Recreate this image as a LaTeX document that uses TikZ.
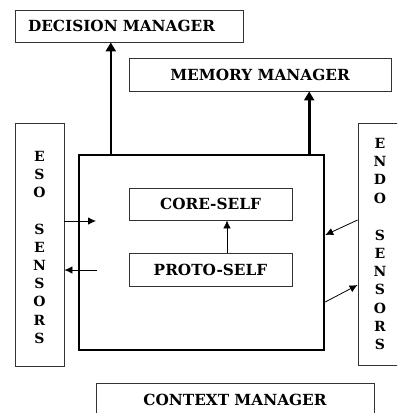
\documentclass[tikz,border=0pt]{standalone}
\usepackage{fontspec}
\setmainfont{DejaVu Serif}
\usetikzlibrary{arrows.meta,calc}
\tikzset{
  box/.style={draw=black!80, line width=0.8pt, inner sep=0pt, font=\bfseries\fontsize{15.3}{18}\selectfont},
  mainbox/.style={draw=black, line width=2.4pt, inner sep=0pt},
  sensor/.style={box, align=center, font=\bfseries\fontsize{14}{18.2}\selectfont},
  bigarrow/.style={line width=2.6pt, -{Triangle[length=9pt,width=10pt]}},
  smallarrow/.style={line width=0.8pt, -{Latex[length=8pt,width=7.5pt]}}
}
\begin{document}
\begin{tikzpicture}[x=1pt,y=-1pt]
\useasboundingbox (0,0) rectangle (397,413);
\clip (0,0) rectangle (397,413);

% managers
\node[box, minimum width=228pt, minimum height=32pt, text width=202pt, align=left] (dec) at (129,26) {DECISION MANAGER};
\node[box, minimum width=262pt, minimum height=33pt] (mem) at (260,74.5) {MEMORY MANAGER};
\node[box, minimum width=278pt, minimum height=34pt] (ctx) at (235,400) {CONTEXT MANAGER};

% central unit
\node[mainbox, minimum width=245pt, minimum height=195pt] (main) at (201.5,252.5) {};
\node[box, minimum width=163pt, minimum height=32pt] (core) at (210.5,204) {CORE-SELF};
\node[box, minimum width=163pt, minimum height=33pt] (proto) at (210.5,269.5) {PROTO-SELF};

% sensor columns
\node[sensor, minimum width=49pt, minimum height=243pt] (eso) at (39.5,244.5)
  {\rule{0pt}{16pt}E\\S\\O\\[18pt]S\\E\\N\\S\\O\\R\\S};
\node[sensor, minimum width=44pt, minimum height=242pt] (endo) at (380,244)
  {E\\N\\D\\O\\[19pt]S\\E\\N\\S\\O\\R\\S};

% outputs to the managers
\draw[bigarrow] ([xshift=33pt]main.north west) -- ([xshift=33pt]main.north west |- dec.south);
\draw[bigarrow] ([xshift=-16pt]main.north east) -- ([xshift=-16pt]main.north east |- mem.south);

% proto-self feeds core-self
\draw[smallarrow] ([xshift=16.5pt]proto.north) -- ([xshift=16.5pt]core.south);

% exteroceptive sensors
\coordinate (esoin) at (96,221);
\coordinate (esoout) at (97,270);
\draw[smallarrow] (eso.east |- esoin) -- (esoin);
\draw[smallarrow] (esoout) -- (eso.east |- esoout);

% endogenous sensors
\draw[smallarrow] ([yshift=24pt]endo.west) -- ([yshift=17.5pt]main.east);
\draw[smallarrow] ([yshift=-49.5pt]main.east) -- ([yshift=-41pt]endo.west);
\end{tikzpicture}
\end{document}
